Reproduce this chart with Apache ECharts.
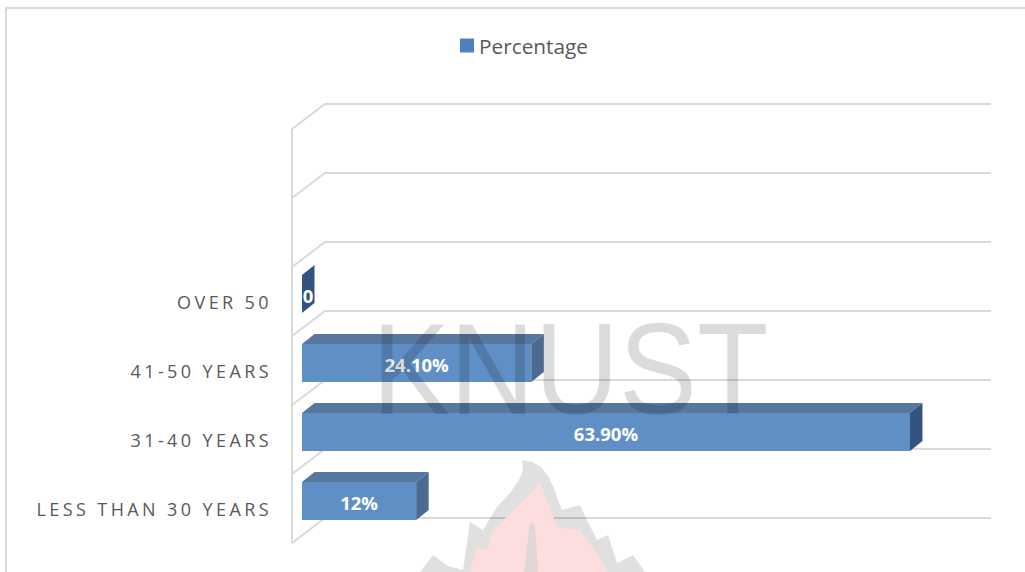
<!DOCTYPE html>
<html>
<head>
<meta charset="utf-8">
<style>html,body{margin:0;padding:0;background:#fff}#c{width:1025px;height:572px}</style>
<script src="https://cdn.jsdelivr.net/npm/echarts@6/dist/echarts.min.js"></script>
</head>
<body>
<div id="c"></div>
<script>
const categories = ['LESS THAN 30 YEARS', '31-40 YEARS', '41-50 YEARS', 'OVER 50', ' ', '  '];
const percentages = [12, 63.9, 24.1, 0];
const valueLabels = ['12%', '63.90%', '24.10%', '0'];
const seriesName = 'Percentage';

const FRONT = '#5f8fc5', TOP = '#56789f', SIDE = '#4a6a92', SIDE_DARK = '#33547e', GRID = '#d9d9d9';
const WALL_DX = 33, WALL_DY = -25, BAR_DX = 10, BAR_DY = -7.5, DEPTH_X = 12.5, DEPTH_Y = -10, BAR_H = 0.55;

const chart = echarts.init(document.getElementById('c'), null, {renderer: 'svg'});

function wall(params, api) {
  const i = api.value(1);
  const c = api.coord([0, i]);
  const end = api.coord([api.value(0), i]);
  const h = api.size([0, 1])[1];
  const kids = [];
  const line = (yy) => ({
    type: 'polyline',
    shape: {points: [[c[0], yy], [c[0] + WALL_DX, yy + WALL_DY], [end[0] + WALL_DX, yy + WALL_DY]]},
    style: {stroke: GRID, lineWidth: 2, fill: 'none'}
  });
  kids.push(line(c[1] + h / 2));
  if (i === categories.length - 1) kids.push(line(c[1] - h / 2));
  kids.push({type: 'line', shape: {x1: c[0], y1: c[1] - h / 2, x2: c[0], y2: c[1] + h / 2},
    style: {stroke: GRID, lineWidth: 2}});
  return {type: 'group', children: kids};
}

function bar(params, api) {
  const v = api.value(0), i = api.value(1);
  const c0 = api.coord([0, i]);
  const c1 = api.coord([v, i]);
  const bh = api.size([0, 1])[1] * BAR_H;
  const x0 = c0[0] + BAR_DX, x1 = c1[0] + BAR_DX;
  const y0 = c0[1] + BAR_DY - bh / 2, y1 = y0 + bh;
  const kids = [];
  if (v > 0) {
    kids.push({type: 'polygon', shape: {points: [[x0, y0], [x0 + DEPTH_X, y0 + DEPTH_Y], [x1 + DEPTH_X, y0 + DEPTH_Y], [x1, y0]]},
      style: {fill: TOP}});
    kids.push({type: 'rect', shape: {x: x0, y: y0, width: x1 - x0, height: bh}, style: {fill: FRONT}});
  }
  kids.push({type: 'polygon', shape: {points: [[x1, y0], [x1 + DEPTH_X, y0 + DEPTH_Y], [x1 + DEPTH_X, y1 + DEPTH_Y], [x1, y1]]},
    style: {fill: (v === 0 || v > 50) ? SIDE_DARK : SIDE}});
  kids.push({type: 'text', z2: 10, style: {
    text: valueLabels[params.dataIndex],
    x: v > 0 ? (x0 + x1) / 2 : x0 + 6,
    y: (y0 + y1) / 2 + 1,
    align: 'center', verticalAlign: 'middle',
    fill: '#ffffff', font: 'bold 18.5px "Open Sans", sans-serif'
  }});
  return {type: 'group', children: kids};
}

const option = {
  animation: false,
  backgroundColor: '#ffffff',
  grid: {left: 292, top: 129, width: 666, height: 414, containLabel: false},
  legend: {
    data: [{name: seriesName, icon: 'rect', itemStyle: {color: '#4f81bd'}}],
    left: 455, top: 30, itemWidth: 14, itemHeight: 14, itemGap: 6,
    textStyle: {color: '#595959', fontFamily: '"Open Sans", sans-serif', fontSize: 20.8, padding: [0, 0, 0, 0]},
    selectedMode: false
  },
  xAxis: {type: 'value', min: 0, max: 70, interval: 10, show: false},
  yAxis: {
    type: 'category', data: categories,
    axisLine: {show: false}, axisTick: {show: false}, splitLine: {show: false},
    axisLabel: {color: '#595959', fontFamily: '"Open Sans", sans-serif', fontSize: 18, margin: 20, interval: 0}
  },
  series: [
    {type: 'custom', name: 'walls', silent: true, clip: false, z: 1, renderItem: wall,
      encode: {x: 0, y: 1}, data: categories.map((_, i) => [70, i])},
    {type: 'custom', name: seriesName, clip: false, z: 3, renderItem: bar,
      encode: {x: 0, y: 1}, itemStyle: {color: '#4f81bd'},
      data: percentages.map((v, i) => [v, i])}
  ],
  graphic: {elements: [
    {type: 'polyline', silent: true, z: 0, shape: {points: [[6, 572], [6, 8], [1025, 8]]},
      style: {stroke: '#d9d9d9', lineWidth: 2, fill: 'none'}},
    {type: 'polygon', silent: true, z: 50, shape: {points: [[522,460],[532,462],[541,467],[548,476],[554,488],[558,500],[562,510],[580,505],[588,522],[597,540],[608,535],[613,550],[617,563],[633,555],[645,572],[420,572],[433,555],[448,566],[463,570],[470,522],[483,530],[497,507],[510,493],[519,480],[523,470]]},
      style: {fill: 'rgba(0,0,0,0.12)'}},
    {type: 'polygon', silent: true, z: 51, shape: {points: [[540,483],[549,505],[557,527],[580,530],[603,563],[607,572],[470,572],[477,547],[487,550],[493,530],[517,507]]},
      style: {fill: 'rgb(252,222,222)'}},
    {type: 'polygon', silent: true, z: 52, shape: {points: [[530,522],[535,525],[538,572],[524,572]]},
      style: {fill: 'rgb(224,214,214)'}},
    {type: 'text', silent: true, z: 60, x: 372, y: 304, scaleX: 0.9, scaleY: 1,
      style: {text: 'KNUST', fill: 'rgba(0,0,0,0.14)', font: '130px "Liberation Sans", sans-serif', align: 'left', verticalAlign: 'top'}}
  ]}
};
chart.setOption(option);

// Axis labels are spaced out like the reference (SVG text inherits CSS letter-spacing).
document.querySelectorAll('#c svg text').forEach(t => {
  if (categories.includes(t.textContent)) t.style.letterSpacing = '3.4px';
});
</script>
</body>
</html>
